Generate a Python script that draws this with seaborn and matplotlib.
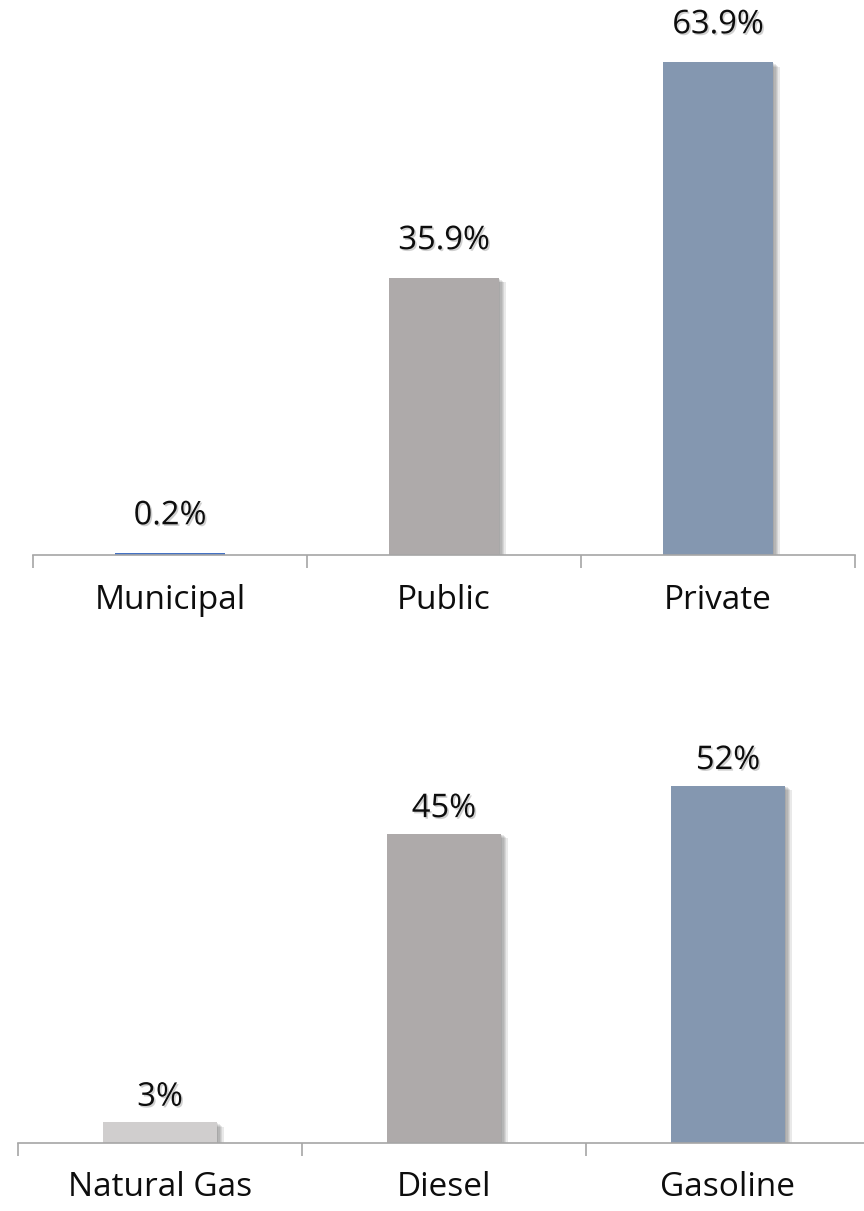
import matplotlib
matplotlib.use("Agg")
import matplotlib.pyplot as plt
import matplotlib.patheffects as pe
from matplotlib.ticker import FixedLocator
import seaborn as sns

# Ownership share of the fleet
owner_labels = ["Municipal", "Public", "Private"]
owner_values = [0.2, 35.9, 63.9]
owner_text = ["0.2%", "35.9%", "63.9%"]
owner_colors = ["#4472C4", "#AEAAAA", "#8497B0"]

# Fuel type share of the fleet
fuel_labels = ["Natural Gas", "Diesel", "Gasoline"]
fuel_values = [3, 45, 52]
fuel_text = ["3%", "45%", "52%"]
fuel_colors = ["#D0CECE", "#AEAAAA", "#8497B0"]

sns.set_theme(style="white")
plt.rcParams["font.family"] = ["Open Sans", "DejaVu Sans"]

W, H = 864, 1211
fig = plt.figure(figsize=(W / 100, H / 100), dpi=100)
fig.patch.set_facecolor("white")

AXIS_GRAY = "#A6A6A6"
FS_VALUE = 23.5
FS_CAT = 24


def px_box(left, right, top, bottom):
    return [left / W, (H - bottom) / H, (right - left) / W, (bottom - top) / H]


# soft drop shadow built from a few stacked offset copies
BAR_SHADOW = [pe.SimplePatchShadow(offset=(dx, -dx * 0.6), shadow_rgbFace="#555555", alpha=0.13)
              for dx in (1, 2, 3, 4, 5)] + [pe.Normal()]
TEXT_SHADOW = [pe.SimplePatchShadow(offset=(1.2, -1.2), shadow_rgbFace="#666666", alpha=0.3),
               pe.Normal()]


def draw_panel(ax, labels, values, texts, colors, ymax, label_gap, pad):
    sns.barplot(x=labels, y=values, hue=labels, palette=colors, legend=False,
                width=0.4, ax=ax, saturation=1)
    ax.set_xlim(-0.5, len(labels) - 0.5)
    ax.set_ylim(0, ymax)
    for bar in ax.patches:
        bar.set_linewidth(0)
        if bar.get_height() > 1:
            bar.set_path_effects(BAR_SHADOW)
    for i, (v, t) in enumerate(zip(values, texts)):
        ax.annotate(t, xy=(i, v), xytext=(0, label_gap), textcoords="offset points",
                    ha="center", va="baseline", fontsize=FS_VALUE, color="#0D0D0D",
                    path_effects=TEXT_SHADOW)
    for side in ("left", "right", "top"):
        ax.spines[side].set_visible(False)
    ax.spines["bottom"].set_color(AXIS_GRAY)
    ax.spines["bottom"].set_linewidth(1.2)
    ax.set_yticks([])
    ax.set_xlabel("")
    ax.set_ylabel("")
    ax.xaxis.set_minor_locator(FixedLocator([k - 0.5 for k in range(len(labels) + 1)]))
    ax.tick_params(axis="x", which="major", length=0, pad=pad, labelsize=FS_CAT, labelcolor="#0D0D0D")
    ax.tick_params(axis="x", which="minor", length=9, width=1.2, color=AXIS_GRAY,
                   direction="out", bottom=True)
    ax.set_facecolor("none")


ax_top = fig.add_axes(px_box(33, 855, 0, 555))
draw_panel(ax_top, owner_labels, owner_values, owner_text, owner_colors, 72, 21, 21)

ax_bot = fig.add_axes(px_box(18, 870, 662, 1143))
draw_panel(ax_bot, fuel_labels, fuel_values, fuel_text, fuel_colors, 70, 12, 20)

fig.savefig("out.png", dpi=100, facecolor="white")
